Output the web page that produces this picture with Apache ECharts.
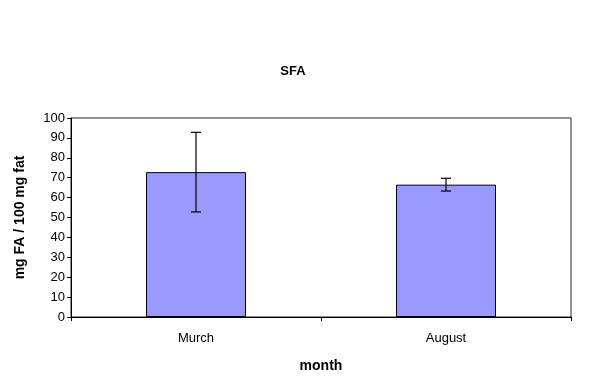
<!DOCTYPE html>
<html><head><meta charset="utf-8">
<script src="https://cdn.jsdelivr.net/npm/echarts@6/dist/echarts.min.js"></script>
<style>html,body{margin:0;padding:0;background:#fff}#c{width:595px;height:382px}</style>
</head><body><div id="c"></div>
<script>
var categories = ['Murch', 'August'];
var values = [72.8, 66.5];
var errors = [20.0, 3.2];
var yTicks = [0, 10, 20, 30, 40, 50, 60, 70, 80, 90, 100];

var chart = echarts.init(document.getElementById('c'), null, {renderer: 'canvas'});
var font = 'Arial, "Liberation Sans", sans-serif';
chart.setOption({
  animation: false,
  backgroundColor: '#fff',
  title: {text: 'SFA', left: 288, top: 60, textAlign: 'center',
    textStyle: {fontFamily: font, fontSize: 13, fontWeight: 'bold', color: '#000'}},
  grid: {left: 71, right: 24, top: 118, bottom: 65, show: true, borderColor: '#222', borderWidth: 1},
  xAxis: {type: 'category', data: categories,
    name: 'month', nameLocation: 'middle', nameGap: 42,
    nameTextStyle: {fontFamily: font, fontSize: 14, fontWeight: 'bold', color: '#000'},
    axisLine: {lineStyle: {color: '#000'}},
    axisTick: {show: true, alignWithLabel: false, length: 4, inside: false, lineStyle: {color: '#000'}},
    axisLabel: {fontFamily: font, fontSize: 13, color: '#000', margin: 15}},
  yAxis: {type: 'value', min: yTicks[0], max: yTicks[yTicks.length - 1], interval: 10,
    name: 'mg FA / 100 mg fat', nameLocation: 'middle', nameGap: 44, nameRotate: 90,
    nameTextStyle: {fontFamily: font, fontSize: 14, fontWeight: 'bold', color: '#000'},
    axisLine: {show: true, lineStyle: {color: '#000'}},
    axisTick: {show: true, length: 4, lineStyle: {color: '#000'}},
    splitLine: {show: false},
    axisLabel: {fontFamily: font, fontSize: 13, color: '#000', margin: 6}},
  series: [
    {type: 'bar', data: values, barWidth: '40%',
      itemStyle: {color: '#9999FF', borderColor: '#000', borderWidth: 1}},
    {type: 'custom', z: 10,
      data: values.map(function (v, i) { return [i, v - errors[i], v + errors[i]]; }),
      renderItem: function (params, api) {
        var x = api.value(0);
        var lo = api.coord([x, api.value(1)]);
        var hi = api.coord([x, api.value(2)]);
        var w = 5;
        var st = {stroke: '#000', lineWidth: 1.2};
        return {type: 'group', children: [
          {type: 'line', shape: {x1: hi[0], y1: hi[1], x2: lo[0], y2: lo[1]}, style: st},
          {type: 'line', shape: {x1: hi[0] - w, y1: hi[1], x2: hi[0] + w, y2: hi[1]}, style: st},
          {type: 'line', shape: {x1: lo[0] - w, y1: lo[1], x2: lo[0] + w, y2: lo[1]}, style: st}
        ]};
      }}
  ]
});
</script></body></html>
